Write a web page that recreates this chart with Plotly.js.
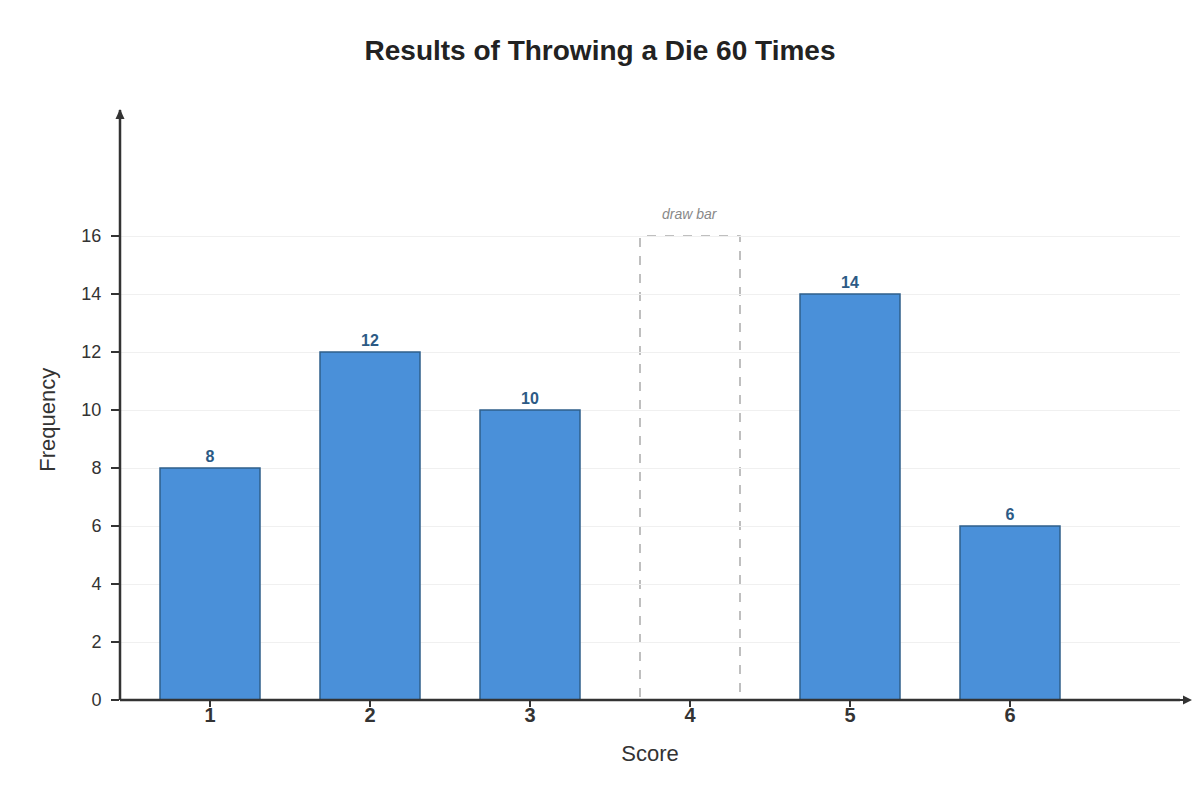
<!DOCTYPE html>
<html>
<head>
<meta charset="utf-8">
<script src="https://cdn.plot.ly/plotly-3.0.1.min.js"></script>
<style>
  html, body { margin: 0; padding: 0; background: #fff; }
  #chart { width: 1200px; height: 800px; }
</style>
</head>
<body>
<div id="chart"></div>
<script>
// Scores on the die and how often each came up (score 4 is still to be drawn).
var scores = [1, 2, 3, 4, 5, 6];
var frequencies = [8, 12, 10, null, 14, 6];
var missingScore = 4;
var placeholderHeight = 16;
var yTicks = [0, 2, 4, 6, 8, 10, 12, 14, 16];

var barWidth = 0.625;
var font = 'Liberation Sans, Arial, sans-serif';

var bars = {
    type: 'bar',
    x: scores,
    y: frequencies,
    width: barWidth,
    marker: {
        color: '#4a90d9',
        line: { color: '#2f5f8a', width: 1.5 }
    },
    text: frequencies.map(function (v) { return v === null ? '' : String(v); }),
    textposition: 'outside',
    textfont: { family: font, size: 16, color: '#2c5a85', weight: 'bold' },
    cliponaxis: false,
    hoverinfo: 'x+y'
};

// Axis lines and arrow heads, anchored to the ends of the plot area.
var arrows = [
    {
        type: 'path', xref: 'paper', yref: 'paper',
        xsizemode: 'pixel', ysizemode: 'pixel', xanchor: 0, yanchor: 1,
        path: 'M -4.5 -9 L 4.5 -9 L 0 1 Z',
        fillcolor: '#333', line: { width: 0 }
    },
    {
        type: 'path', xref: 'paper', yref: 'paper',
        xsizemode: 'pixel', ysizemode: 'pixel', xanchor: 1, yanchor: 0,
        path: 'M 0 -1 L 0 1 L 3 1 L 3 4.5 L 12 0 L 3 -4.5 L 3 -1 Z',
        fillcolor: '#333', line: { width: 0 }
    },
    {
        type: 'line', xref: 'paper', yref: 'paper',
        x0: 0, x1: 0, y0: 0, y1: 1,
        line: { color: '#333', width: 2.5 }
    },
    {
        type: 'line', xref: 'paper', yref: 'paper',
        x0: 0, x1: 1, y0: 0, y1: 0,
        line: { color: '#333', width: 2.5 }
    }
];

// Dashed outline where the missing bar should be drawn.
var placeholder = {
    type: 'rect', xref: 'x', yref: 'y',
    x0: missingScore - barWidth / 2, x1: missingScore + barWidth / 2,
    y0: 0, y1: placeholderHeight,
    line: { color: '#aaaaaa', width: 1.5, dash: 'dash' },
    fillcolor: 'rgba(0,0,0,0)',
    layer: 'below'
};

var layout = {
    width: 1200,
    height: 800,
    paper_bgcolor: '#fff',
    plot_bgcolor: '#fff',
    margin: { t: 110, r: 20, b: 100, l: 120 },
    showlegend: false,
    font: { family: font, color: '#333' },
    title: {
        text: 'Results of Throwing a Die 60 Times',
        font: { family: font, size: 28, color: '#222', weight: 'bold' },
        x: 0.5, xanchor: 'center',
        y: 0.937, yanchor: 'middle'
    },
    xaxis: {
        range: [1 - 90 / 160, 1 + 970 / 160],
        tickvals: scores,
        ticktext: scores.map(String),
        ticks: 'outside',
        ticklen: 6,
        tickwidth: 2,
        tickcolor: '#333',
        ticklabelstandoff: -9,
        tickfont: { family: font, size: 20, color: '#333', weight: 'bold' },
        showgrid: false,
        zeroline: false,
        showline: false,
        fixedrange: true,
        title: { text: 'Score', font: { family: font, size: 22, color: '#333' }, standoff: 20 }
    },
    yaxis: {
        range: [0, 590 / 29],
        tickvals: yTicks,
        ticks: 'outside',
        ticklen: 8,
        tickwidth: 2,
        tickcolor: '#333',
        ticklabelstandoff: 6,
        tickfont: { family: font, size: 18, color: '#333' },
        showgrid: true,
        gridcolor: '#f0f0f0',
        gridwidth: 1,
        zeroline: false,
        showline: false,
        fixedrange: true
    },
    shapes: [placeholder].concat(arrows),
    annotations: [
        {
            x: missingScore, y: placeholderHeight,
            xref: 'x', yref: 'y',
            text: '<i>draw bar</i>',
            showarrow: false,
            yanchor: 'bottom', yshift: 12,
            font: { family: font, size: 14, color: '#888' }
        },
        {
            x: 48, y: 0.475,
            xref: 'paper', yref: 'paper',
            xanchor: 'center', yanchor: 'middle',
            text: 'Frequency',
            textangle: -90,
            showarrow: false,
            font: { family: font, size: 22, color: '#333' }
        }
    ]
};

// The y-axis title sits at a fixed pixel column in the left margin.
layout.annotations[1].x = (48 - layout.margin.l) / (1200 - layout.margin.l - layout.margin.r);

Plotly.newPlot('chart', [bars], layout, { displayModeBar: false, staticPlot: true });
</script>
</body>
</html>
